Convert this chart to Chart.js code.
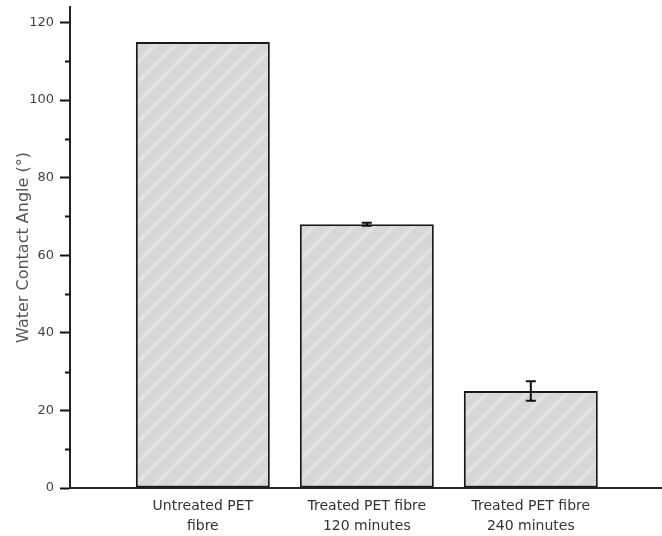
<!DOCTYPE html>
<html>
<head>
<meta charset="utf-8">
<script src="https://cdn.jsdelivr.net/npm/chart.js@4.4.0/dist/chart.umd.min.js"></script>
<style>
  body { margin: 0; background: #fff; }
</style>
</head>
<body>
<canvas id="myChart" width="662" height="536"></canvas>
<script>
// data
const categories = [
  ["Untreated PET", "fibre"],
  ["Treated PET fibre", "120 minutes"],
  ["Treated PET fibre", "240 minutes"]
];
const angles = [115, 68, 25];
const errors = [0, 0.4, 2.5];
const yTicks = [0, 20, 40, 60, 80, 100, 120];
const yMinorTicks = [10, 30, 50, 70, 90, 110];

// hatch fill like the original
function makeHatch() {
  const c = document.createElement("canvas");
  c.width = 20;
  c.height = 20;
  const g = c.getContext("2d");
  g.fillStyle = "#dadada";
  g.fillRect(0, 0, 20, 20);
  g.fillStyle = "#cdcdcd";
  for (let y = 0; y < 20; y += 2) {
    for (let x = (y / 2) % 2; x < 20; x += 2) {
      g.fillRect(x, y, 1, 1);
    }
  }
  g.strokeStyle = "#e2e2e2";
  g.lineWidth = 4;
  [[-10, 10, 10, -10], [0, 20, 20, 0], [10, 30, 30, 10]].forEach((l) => {
    g.beginPath();
    g.moveTo(l[0], l[1]);
    g.lineTo(l[2], l[3]);
    g.stroke();
  });
  return g.createPattern(c, "repeat");
}

const ctx = document.getElementById("myChart");
const hatch = makeHatch();

// error bars + minor ticks
const extras = {
  id: "extras",
  afterDatasetsDraw(chart) {
    const c = chart.ctx;
    const y = chart.scales.y;
    const meta = chart.getDatasetMeta(0);
    c.save();
    c.strokeStyle = "#111";
    c.lineWidth = 2;
    meta.data.forEach((bar, i) => {
      if (!errors[i]) return;
      const top = y.getPixelForValue(angles[i] + errors[i]);
      const bot = y.getPixelForValue(angles[i] - errors[i]);
      c.beginPath();
      c.moveTo(bar.x, top);
      c.lineTo(bar.x, bot);
      c.moveTo(bar.x - 5, top);
      c.lineTo(bar.x + 5, top);
      c.moveTo(bar.x - 5, bot);
      c.lineTo(bar.x + 5, bot);
      c.stroke();
    });
    const left = chart.chartArea.left;
    yMinorTicks.forEach((v) => {
      const p = Math.round(y.getPixelForValue(v)) + 0.5;
      c.beginPath();
      c.moveTo(left - 5, p);
      c.lineTo(left, p);
      c.stroke();
    });
    c.restore();
  }
};

new Chart(ctx, {
  type: "bar",
  data: {
    datasets: [{
      data: angles.map((v, i) => ({ x: i + 1, y: v })),
      backgroundColor: hatch,
      borderColor: "#1a1a1a",
      borderWidth: 2,
      borderSkipped: false,
      categoryPercentage: 1,
      barPercentage: 0.817
    }]
  },
  plugins: [extras],
  options: {
    responsive: false,
    animation: false,
    layout: { padding: { top: 7, right: 0 } },
    plugins: {
      legend: { display: false },
      tooltip: { enabled: false }
    },
    scales: {
      x: {
        type: "linear",
        offset: false,
        min: 0.19,
        max: 3.8,
        afterBuildTicks: (s) => { s.ticks = categories.map((c, i) => ({ value: i + 1 })); },
        afterFit: (s) => { s.height = 48; },
        grid: { display: false, drawTicks: false },
        border: { color: "#222", width: 2 },
        ticks: {
          color: "#333",
          padding: 9,
          font: { family: "DejaVu Sans", size: 14, lineHeight: 1.4 },
          maxRotation: 0,
          callback: (v) => categories[v - 1]
        }
      },
      y: {
        min: 0,
        max: 124,
        afterBuildTicks: (s) => { s.ticks = yTicks.map((v) => ({ value: v })); },
        afterFit: (s) => { s.width = 70; s.paddingTop = 0; },
        grid: { drawOnChartArea: false, tickLength: 10, tickColor: "#111", tickWidth: 2 },
        border: { color: "#222", width: 2 },
        ticks: {
          color: "#444",
          padding: 6,
          font: { family: "DejaVu Sans", size: 13 }
        },
        title: {
          display: true,
          text: "Water Contact Angle (°)",
          color: "#555",
          padding: { top: 14, bottom: 0 },
          font: { family: "DejaVu Sans", size: 16 }
        }
      }
    }
  }
});
</script>
</body>
</html>
